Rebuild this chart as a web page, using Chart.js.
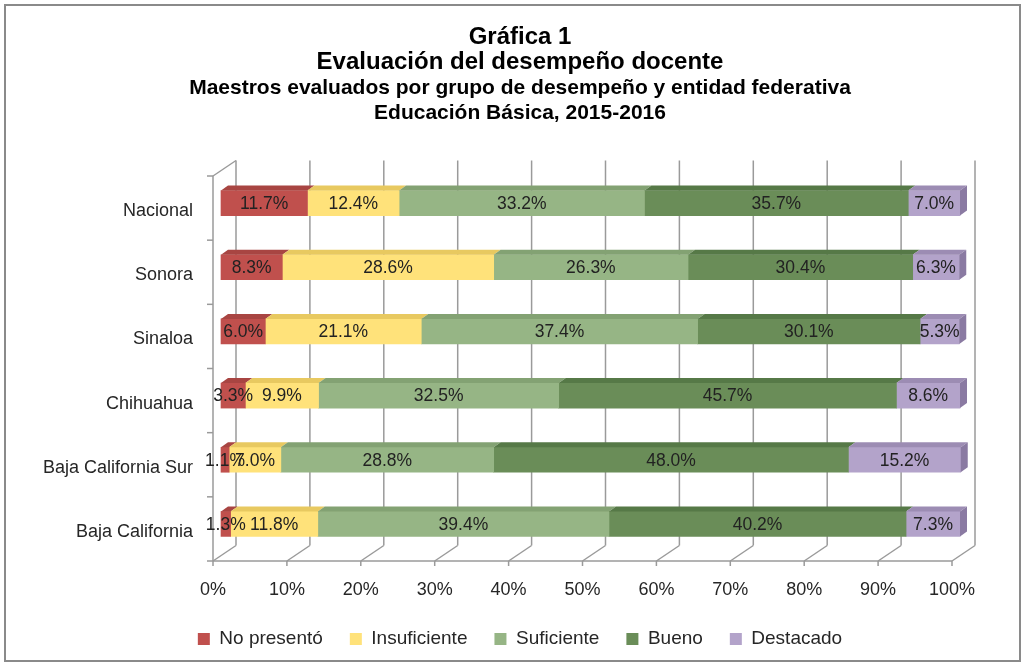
<!DOCTYPE html>
<html>
<head>
<meta charset="utf-8">
<script src="https://cdn.jsdelivr.net/npm/chart.js@4.4.0/dist/chart.umd.min.js"></script>
<style>
  html, body { margin: 0; padding: 0; background: #fff; }
  #wrap { position: relative; width: 1025px; height: 666px; }
  #frame { position: absolute; left: 4px; top: 4px; width: 1013px; height: 654px; border: 2px solid #8a8a8a; pointer-events: none; }
</style>
</head>
<body>
<div id="wrap">
  <canvas id="chart" width="1025" height="666"></canvas>
  <div id="frame"></div>
</div>
<script>
// datos
const entidades = ["Nacional", "Sonora", "Sinaloa", "Chihuahua", "Baja California Sur", "Baja California"];
const grupos = ["No presentó", "Insuficiente", "Suficiente", "Bueno", "Destacado"];
const noPresento   = [11.7, 8.3, 6.0, 3.3, 1.1, 1.3];
const insuficiente = [12.4, 28.6, 21.1, 9.9, 7.0, 11.8];
const suficiente   = [33.2, 26.3, 37.4, 32.5, 28.8, 39.4];
const bueno        = [35.7, 30.4, 30.1, 45.7, 48.0, 40.2];
const destacado    = [7.0, 6.3, 5.3, 8.6, 15.2, 7.3];

const colores = ["#C0504D", "#FFE27A", "#96B585", "#6A8D58", "#B3A3CA"];
const tapas   = ["#A84542", "#E8C960", "#83A273", "#567947", "#9C8CB3"];
const lado = "#8A7AA2";

const fuente = '"Liberation Sans", Arial, sans-serif';
const BX = 15, BY = 10.5;  // plano del fondo
const FX = -8, FY = 5;     // plano del frente
const DX = 7, DY = 5;      // profundidad de las barras

function linea(ctx, x1, y1, x2, y2) {
  ctx.beginPath();
  ctx.moveTo(x1, y1);
  ctx.lineTo(x2, y2);
  ctx.stroke();
}

const caja3d = {
  id: 'caja3d',
  beforeDatasetsDraw(chart) {
    const ctx = chart.ctx, a = chart.chartArea;
    const xs = chart.scales.x;
    const x0 = xs.getPixelForValue(0), x100 = xs.getPixelForValue(100);
    ctx.save();
    ctx.strokeStyle = '#9a9a9a';
    ctx.lineWidth = 1.5;
    xs.ticks.forEach(t => {
      const px = xs.getPixelForValue(t.value);
      linea(ctx, px + BX, a.top - BY, px + BX, a.bottom - BY);
      linea(ctx, px + FX, a.bottom + FY, px + BX, a.bottom - BY);
      linea(ctx, px + FX, a.bottom + FY, px + FX, a.bottom + FY + 5);
    });
    linea(ctx, x0 + FX, a.bottom + FY, x100 + FX, a.bottom + FY);
    linea(ctx, x0 + FX, a.top + FY, x0 + FX, a.bottom + FY);
    linea(ctx, x0 + FX, a.top + FY, x0 + BX, a.top - BY);
    const n = entidades.length, banda = (a.bottom - a.top) / n;
    for (let k = 0; k <= n; k++) {
      const y = a.top + k * banda + FY;
      linea(ctx, x0 + FX - 6, y, x0 + FX, y);
    }
    ctx.restore();
  },
  afterDatasetsDraw(chart) {
    const ctx = chart.ctx;
    ctx.save();
    const nds = chart.data.datasets.length;
    chart.data.datasets.forEach((ds, i) => {
      const meta = chart.getDatasetMeta(i);
      meta.data.forEach(el => {
        const p = el.getProps(['x', 'y', 'base', 'height'], true);
        const top = p.y - p.height / 2, bot = p.y + p.height / 2;
        ctx.fillStyle = tapas[i];
        ctx.beginPath();
        ctx.moveTo(p.base, top);
        ctx.lineTo(p.base + DX, top - DY);
        ctx.lineTo(p.x + DX, top - DY);
        ctx.lineTo(p.x, top);
        ctx.closePath();
        ctx.fill();
        if (i === nds - 1) {
          ctx.fillStyle = lado;
          ctx.beginPath();
          ctx.moveTo(p.x, top);
          ctx.lineTo(p.x + DX, top - DY);
          ctx.lineTo(p.x + DX, bot - DY);
          ctx.lineTo(p.x, bot);
          ctx.closePath();
          ctx.fill();
        }
      });
    });
    ctx.font = '17.5px ' + fuente;
    ctx.fillStyle = '#222';
    ctx.textAlign = 'center';
    ctx.textBaseline = 'middle';
    chart.data.datasets.forEach((ds, i) => {
      const meta = chart.getDatasetMeta(i);
      meta.data.forEach((el, j) => {
        const p = el.getProps(['x', 'y', 'base'], true);
        ctx.fillText(ds.data[j].toFixed(1) + '%', (p.base + p.x) / 2, p.y + 1);
      });
    });
    ctx.restore();
  }
};

const series = [noPresento, insuficiente, suficiente, bueno, destacado];

new Chart(document.getElementById('chart'), {
  type: 'bar',
  data: {
    labels: entidades,
    datasets: grupos.map((g, i) => ({
      label: g,
      data: series[i],
      backgroundColor: colores[i],
      borderWidth: 0,
      barThickness: 25,
      clip: false
    }))
  },
  options: {
    indexAxis: 'y',
    responsive: false,
    animation: false,
    layout: { padding: { top: 10, left: 20, right: 5, bottom: 7.5 } },
    scales: {
      x: {
        stacked: true,
        min: 0,
        max: 100,
        grid: { display: false, drawTicks: false },
        border: { display: false },
        ticks: {
          stepSize: 10,
          padding: 23,
          labelOffset: -8,
          color: '#262626',
          font: { family: fuente, size: 18 },
          callback: v => v + '%'
        },
        afterFit: s => { s.height = 46.5; }
      },
      y: {
        stacked: true,
        grid: { display: false, drawTicks: false },
        border: { display: false },
        ticks: {
          padding: 28,
          labelOffset: 8,
          color: '#262626',
          font: { family: fuente, size: 18 }
        },
        afterFit: s => { s.width = 201; }
      },
      y2: {
        type: 'category',
        labels: entidades,
        position: 'right',
        grid: { display: false, drawTicks: false },
        border: { display: false },
        ticks: { display: false },
        afterFit: s => { s.width = 60; }
      }
    },
    plugins: {
      title: {
        display: true,
        text: ['Gráfica 1', 'Evaluación del desempeño docente'],
        color: '#000',
        font: { family: fuente, size: 24, weight: 'bold', lineHeight: 25 / 24 },
        padding: { top: 14.5, bottom: 0 }
      },
      subtitle: {
        display: true,
        text: ['Maestros evaluados por grupo de desempeño y entidad federativa', 'Educación Básica, 2015-2016'],
        color: '#000',
        font: { family: fuente, size: 21, weight: 'bold', lineHeight: 25 / 21 },
        padding: { top: 1, bottom: 45.5 }
      },
      legend: {
        position: 'bottom',
        labels: {
          boxWidth: 12,
          boxHeight: 12,
          padding: 27,
          color: '#262626',
          font: { family: fuente, size: 19 }
        }
      },
      tooltip: { enabled: false }
    }
  },
  plugins: [caja3d]
});
</script>
</body>
</html>
